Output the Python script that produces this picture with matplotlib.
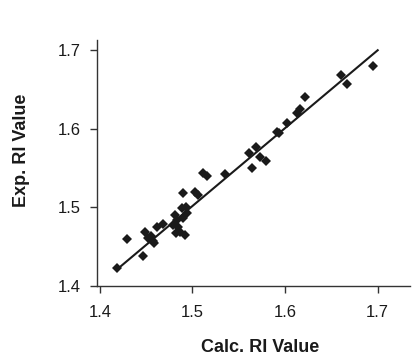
import matplotlib
matplotlib.use("Agg")
import matplotlib.pyplot as plt

calc = [1.419, 1.4295, 1.447, 1.449, 1.452, 1.455, 1.459, 1.457, 1.462, 1.468,
        1.481, 1.483, 1.479, 1.4843, 1.4864, 1.4918, 1.482, 1.4896, 1.494, 1.4886,
        1.490, 1.4936, 1.5026, 1.506, 1.5116, 1.5159, 1.5357, 1.561, 1.5638, 1.569,
        1.5728, 1.579, 1.5908, 1.593, 1.602, 1.6124, 1.616, 1.6217, 1.660, 1.6664,
        1.6952]
exp = [1.422, 1.459, 1.438, 1.468, 1.461, 1.463, 1.454, 1.457, 1.475, 1.478,
       1.4897, 1.4835, 1.477, 1.4747, 1.4683, 1.4645, 1.467, 1.486, 1.4925, 1.499,
       1.5176, 1.5005, 1.5197, 1.515, 1.543, 1.5396, 1.5418, 1.5685, 1.5494, 1.577,
       1.564, 1.559, 1.596, 1.594, 1.6075, 1.620, 1.6246, 1.6406, 1.668, 1.6568,
       1.680]
fit_x = [1.419, 1.700]
fit_y = [1.421, 1.700]
ticks = [1.4, 1.5, 1.6, 1.7]

plt.rcParams['font.family'] = ['Liberation Sans', 'DejaVu Sans']
fig = plt.figure(figsize=(4.12, 3.55), dpi=100)
ax = fig.add_axes([0.235, 0.1955, 0.76, 0.6915])
ax.plot(fit_x, fit_y, color='#1a1a1a', lw=1.5, zorder=2)
ax.plot(calc, exp, 'D', color='#1a1a1a', ms=4.6, mew=0, zorder=3)
ax.set_xlim(1.3968, 1.7348)
ax.set_ylim(1.4, 1.7129)
ax.set_xticks(ticks)
ax.set_yticks(ticks)
ax.set_xticklabels([f"{t:.1f}" for t in ticks])
ax.set_yticklabels([f"{t:.1f}" for t in ticks])
ax.spines['top'].set_visible(False)
ax.spines['right'].set_visible(False)
for s in ('left', 'bottom'):
    ax.spines[s].set_linewidth(1.0)
    ax.spines[s].set_color('#333333')
ax.tick_params(direction='out', length=5, width=1, labelsize=12, colors='#333333',
               labelcolor='#1a1a1a')
ax.tick_params(axis='x', pad=9)
ax.tick_params(axis='y', pad=6.5)
ax.set_xlabel('Calc. RI Value', fontsize=13, fontweight='bold', color='#1a1a1a')
ax.set_ylabel('Exp. RI Value', fontsize=13, fontweight='bold', color='#1a1a1a')
ax.xaxis.set_label_coords(0.52, -0.254)
ax.xaxis.label.set_va('center')
ax.yaxis.set_label_coords(-0.24, 0.552)
ax.yaxis.label.set_va('center')
fig.savefig('out.png', dpi=100)
